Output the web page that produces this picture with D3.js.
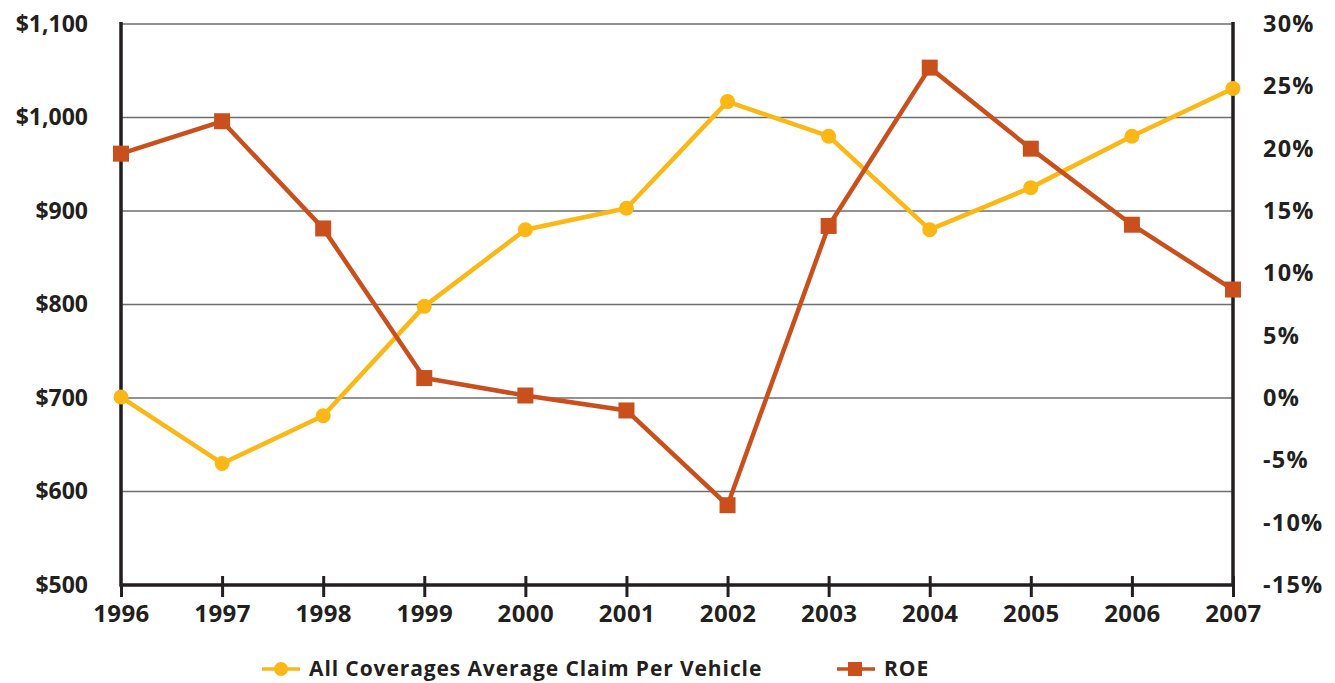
<!DOCTYPE html>
<html>
<head>
<meta charset="utf-8">
<script src="https://cdn.jsdelivr.net/npm/d3@7"></script>
<style>
  html, body { margin: 0; padding: 0; background: #fff; }
  svg { display: block; }
  text { font-family: "Open Sans", "Lato", sans-serif; font-weight: 700; fill: #231f20; }
</style>
</head>
<body>
<svg id="chart" width="1335" height="683"></svg>
<script>
// Years on the x axis
const years = [1996, 1997, 1998, 1999, 2000, 2001, 2002, 2003, 2004, 2005, 2006, 2007];
// All coverages average claim per vehicle, in dollars (left axis)
const avgClaim = [701, 630, 681, 798, 880, 903, 1017, 980, 880, 925, 980, 1031];
// Return on equity, in percent (right axis)
const roe = [19.6, 22.2, 13.6, 1.6, 0.2, -1.0, -8.6, 13.8, 26.5, 20.0, 13.9, 8.7];
// Axis ticks
const claimTicks = [500, 600, 700, 800, 900, 1000, 1100];
const roeTicks = [-15, -10, -5, 0, 5, 10, 15, 20, 25, 30];

const svg = d3.select("#chart");
const ink = "#231f20";
const yellow = "#fbb716";
const orange = "#c9501c";

const plot = { left: 121, right: 1233, top: 24, bottom: 585 };

const x = d3.scalePoint().domain(years).range([plot.left, plot.right]);
const yClaim = d3.scaleLinear().domain([500, 1100]).range([plot.bottom, plot.top]);
const yRoe = d3.scaleLinear().domain([-15, 30]).range([plot.bottom, plot.top]);

// Horizontal gridlines at each claim tick
svg.append("g")
  .selectAll("line")
  .data(claimTicks.filter(d => d > 500))
  .join("line")
  .attr("x1", plot.left).attr("x2", plot.right)
  .attr("y1", d => yClaim(d)).attr("y2", d => yClaim(d))
  .attr("stroke", "#6d6e71").attr("stroke-width", 1.3);

// Left axis labels
const leftAxis = d3.axisLeft(yClaim)
  .tickValues(claimTicks)
  .tickSize(0).tickPadding(33)
  .tickFormat(d => "$" + d3.format(",")(d));
const gL = svg.append("g").attr("transform", `translate(${plot.left},0)`).call(leftAxis);
gL.attr("font-family", null).attr("font-size", null);
gL.select(".domain").remove();
gL.selectAll("text").attr("font-size", 23);

// Right axis labels
const rightAxis = d3.axisRight(yRoe)
  .tickValues(roeTicks)
  .tickSize(0).tickPadding(30)
  .tickFormat(d => d + "%");
const gR = svg.append("g").attr("transform", `translate(${plot.right},0)`).call(rightAxis);
gR.attr("font-family", null).attr("font-size", null);
gR.select(".domain").remove();
gR.selectAll("text").attr("font-size", 23.5).attr("letter-spacing", 1.2);

// Bottom axis with crossing ticks
const gB = svg.append("g").attr("transform", `translate(0,${plot.bottom})`)
  .call(d3.axisBottom(x).tickSize(12).tickPadding(8).tickFormat(d3.format("d")));
gB.attr("font-family", null).attr("font-size", null);
gB.select(".domain").remove();
gB.selectAll(".tick line")
  .attr("y1", d => d === years[0] ? 0 : -9)
  .attr("y2", 12)
  .attr("stroke", ink).attr("stroke-width", 3);
gB.selectAll("text").attr("font-size", 24).attr("letter-spacing", 0.4);

// Frame: left, right and bottom axis lines
svg.append("path")
  .attr("d", `M${plot.left},${plot.top - 2} V${plot.bottom} H${plot.right} M${plot.right},${plot.top - 2} V${plot.bottom}`)
  .attr("fill", "none").attr("stroke", ink).attr("stroke-width", 3.5);

// Claim line
const claimLine = d3.line().x((d, i) => x(years[i])).y(d => yClaim(d));
svg.append("path").datum(avgClaim)
  .attr("d", claimLine)
  .attr("fill", "none").attr("stroke", yellow).attr("stroke-width", 4.5)
  .attr("stroke-linejoin", "round");

// ROE line
const roeLine = d3.line().x((d, i) => x(years[i])).y(d => yRoe(d));
svg.append("path").datum(roe)
  .attr("d", roeLine)
  .attr("fill", "none").attr("stroke", orange).attr("stroke-width", 4.5)
  .attr("stroke-linejoin", "miter");

// Claim markers
svg.append("g").selectAll("circle")
  .data(avgClaim)
  .join("circle")
  .attr("cx", (d, i) => x(years[i]))
  .attr("cy", d => yClaim(d))
  .attr("r", 7.5)
  .attr("fill", yellow);

// ROE markers
const sq = 16;
svg.append("g").selectAll("rect")
  .data(roe)
  .join("rect")
  .attr("x", (d, i) => x(years[i]) - sq / 2)
  .attr("y", d => yRoe(d) - sq / 2)
  .attr("width", sq).attr("height", sq)
  .attr("fill", orange);

// Legend
const legend = svg.append("g").attr("transform", "translate(0,669)");
const items = [
  { label: "All Coverages Average Claim Per Vehicle", color: yellow, shape: "circle", x: 262 },
  { label: "ROE", color: orange, shape: "square", x: 837 }
];
items.forEach(it => {
  const g = legend.append("g").attr("transform", `translate(${it.x},0)`);
  g.append("line").attr("x1", 0).attr("x2", 38).attr("y1", 0).attr("y2", 0)
    .attr("stroke", it.color).attr("stroke-width", 3.5);
  if (it.shape === "circle") {
    g.append("circle").attr("cx", 19).attr("cy", 0).attr("r", 7).attr("fill", it.color);
  } else {
    g.append("rect").attr("x", 11).attr("y", -7).attr("width", 14).attr("height", 14).attr("fill", it.color);
  }
  g.append("text").attr("x", 47).attr("y", 0).attr("dy", "0.35em")
    .attr("font-size", 21).attr("letter-spacing", 0.9).text(it.label);
});
</script>
</body>
</html>
